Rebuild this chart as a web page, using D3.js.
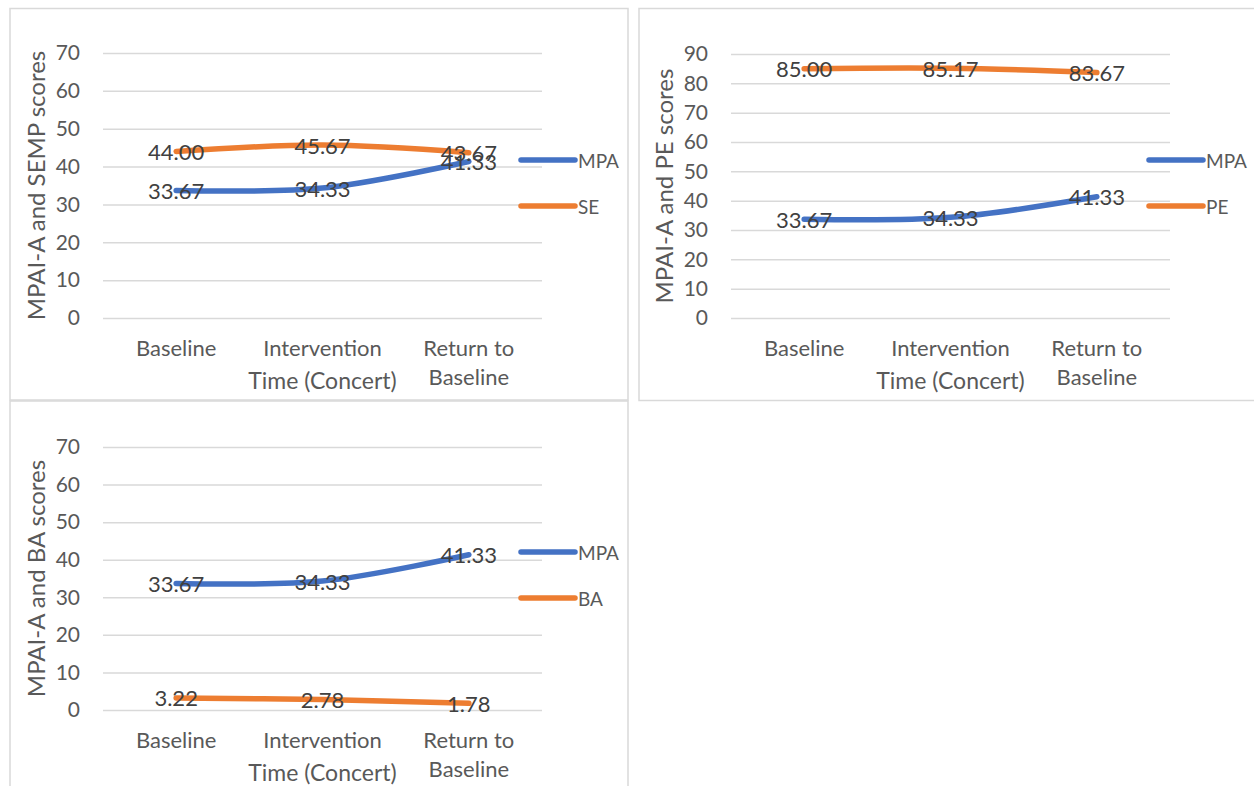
<!DOCTYPE html>
<html>
<head>
<meta charset="utf-8">
<script src="https://cdn.jsdelivr.net/npm/d3@7"></script>
<style>
  html, body { margin: 0; padding: 0; background: #fff; }
  svg { display: block; font-family: Lato, "Open Sans", sans-serif; }
</style>
</head>
<body>
<svg id="chart" width="1254" height="786"></svg>
<script>
// Time points shared by all three panels
const categories = ["Baseline", "Intervention", "Return to Baseline"];
const categoryLines = [["Baseline"], ["Intervention"], ["Return to", "Baseline"]];
const xAxisTitle = "Time (Concert)";

// Series values
const mpaValues = [33.67, 34.33, 41.33];
const seValues = [44.00, 45.67, 43.67];
const peValues = [85.00, 85.17, 83.67];
const baValues = [3.22, 2.78, 1.78];

// Y tick labels
const ticksTo70 = [0, 10, 20, 30, 40, 50, 60, 70];
const ticksTo90 = [0, 10, 20, 30, 40, 50, 60, 70, 80, 90];

const BLUE = "#4472C4";
const ORANGE = "#ED7D31";
const GRID = "#D9D9D9";

const panels = [
  {
    box: { x: 10, y: 8.5, w: 618, h: 391.5 },
    plot: { left: 103, right: 542, top: 53, bottom: 318 },
    ticks: ticksTo70, title: "MPAI-A and SEMP scores", titleX: 35,
    series: [{ name: "MPA", values: mpaValues, color: BLUE },
             { name: "SE", values: seValues, color: ORANGE }],
    legendX: 521, legendY: [160, 206]
  },
  {
    box: { x: 639, y: 8.5, w: 640, h: 392 },
    plot: { left: 731, right: 1170, top: 54, bottom: 318 },
    ticks: ticksTo90, title: "MPAI-A and PE scores", titleX: 663,
    series: [{ name: "MPA", values: mpaValues, color: BLUE },
             { name: "PE", values: peValues, color: ORANGE }],
    legendX: 1149, legendY: [160, 206]
  },
  {
    box: { x: 10, y: 401, w: 618, h: 400 },
    plot: { left: 103, right: 542, top: 447, bottom: 710 },
    ticks: ticksTo70, title: "MPAI-A and BA scores", titleX: 35,
    series: [{ name: "MPA", values: mpaValues, color: BLUE },
             { name: "BA", values: baValues, color: ORANGE }],
    legendX: 521, legendY: [552, 598]
  }
];

const svg = d3.select("#chart");

panels.forEach(p => {
  const g = svg.append("g");

  // chart frame
  g.append("rect")
    .attr("x", p.box.x).attr("y", p.box.y)
    .attr("width", p.box.w).attr("height", p.box.h)
    .attr("fill", "#fff").attr("stroke", GRID).attr("stroke-width", 1.5);

  const x = d3.scaleBand().domain(categories).range([p.plot.left, p.plot.right]);
  const y = d3.scaleLinear().domain([0, d3.max(p.ticks)]).range([p.plot.bottom, p.plot.top]);

  // gridlines + tick labels
  const yAxis = d3.axisLeft(y).tickValues(p.ticks).tickSize(-(p.plot.right - p.plot.left))
    .tickPadding(23).tickFormat(d3.format("d"));
  const ya = g.append("g").attr("transform", `translate(${p.plot.left},0)`).call(yAxis);
  ya.select(".domain").remove();
  ya.selectAll(".tick line").attr("stroke", GRID).attr("stroke-width", 1.5);
  ya.selectAll(".tick text").attr("fill", "#595959").attr("font-size", 21)
    .attr("font-family", "Lato, sans-serif");

  // category labels
  const xa = g.append("g");
  categories.forEach((c, i) => {
    const cx = x(c) + x.bandwidth() / 2;
    const t = xa.append("text").attr("x", cx).attr("y", p.plot.bottom + 38)
      .attr("text-anchor", "middle").attr("fill", "#595959").attr("font-size", 22);
    categoryLines[i].forEach((line, j) => {
      t.append("tspan").attr("x", cx).attr("dy", j === 0 ? 0 : 29).text(line);
    });
  });

  // axis titles
  g.append("text")
    .attr("x", (p.plot.left + p.plot.right) / 2).attr("y", p.plot.bottom + 71)
    .attr("text-anchor", "middle").attr("fill", "#595959").attr("font-size", 23)
    .text(xAxisTitle);
  g.append("text")
    .attr("transform", `translate(${p.titleX},${(p.plot.top + p.plot.bottom) / 2}) rotate(-90)`)
    .attr("text-anchor", "middle").attr("dominant-baseline", "central")
    .attr("fill", "#595959").attr("font-size", 24)
    .text(p.title);

  // smoothed series lines
  const line = d3.line()
    .x((d, i) => x(categories[i]) + x.bandwidth() / 2)
    .y(d => y(d))
    .curve(d3.curveCatmullRom.alpha(0.5));

  p.series.forEach(s => {
    g.append("path").datum(s.values)
      .attr("d", line).attr("fill", "none")
      .attr("stroke", s.color).attr("stroke-width", 5.5)
      .attr("stroke-linecap", "round").attr("stroke-linejoin", "round");
  });

  // data labels centred on points
  p.series.forEach(s => {
    g.append("g").selectAll("text").data(s.values).join("text")
      .attr("x", (d, i) => x(categories[i]) + x.bandwidth() / 2)
      .attr("y", d => y(d))
      .attr("text-anchor", "middle").attr("dominant-baseline", "central")
      .attr("fill", "#404040").attr("font-size", 22)
      .text(d => d.toFixed(2));
  });

  // legend
  p.series.forEach((s, i) => {
    const ly = p.legendY[i];
    g.append("line")
      .attr("x1", p.legendX).attr("x2", p.legendX + 54)
      .attr("y1", ly).attr("y2", ly)
      .attr("stroke", s.color).attr("stroke-width", 5.5).attr("stroke-linecap", "round");
    g.append("text")
      .attr("x", p.legendX + 57).attr("y", ly)
      .attr("dominant-baseline", "central")
      .attr("fill", "#595959").attr("font-size", 19)
      .text(s.name);
  });
});
</script>
</body>
</html>
